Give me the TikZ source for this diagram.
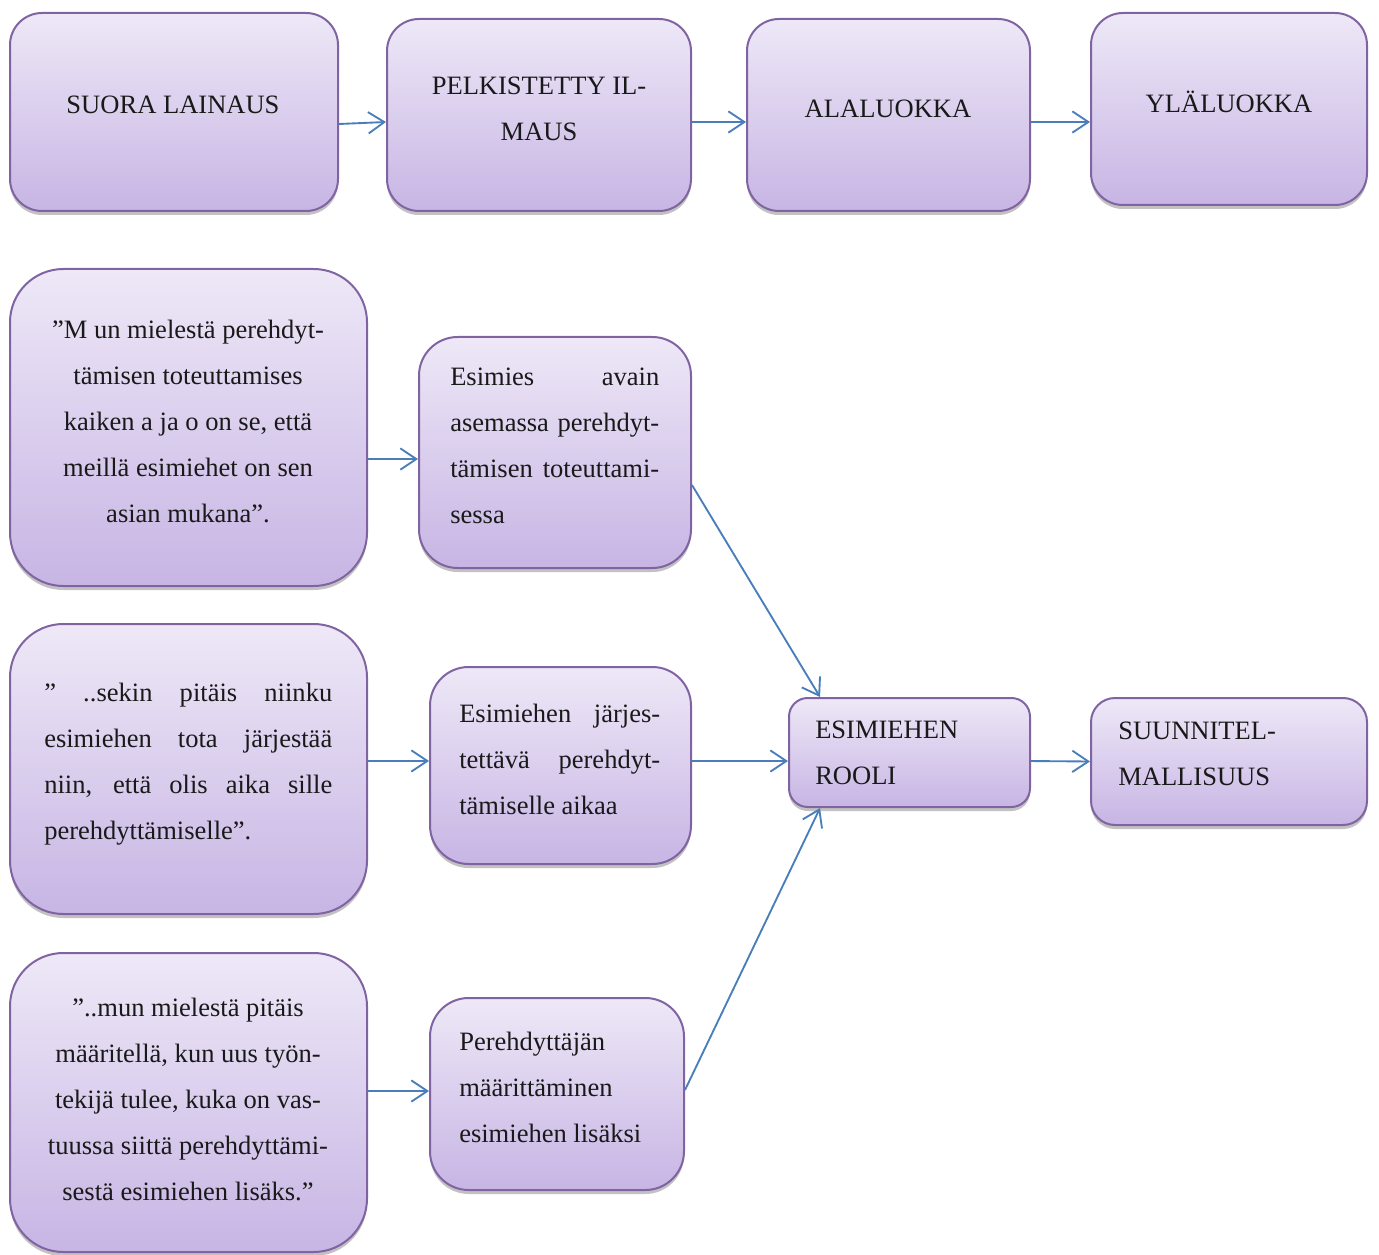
\documentclass[tikz,border=0pt]{standalone}
\usepackage{fontspec}
\setmainfont{Liberation Serif}
\usetikzlibrary{arrows.meta,shadows,fit}
\definecolor{boxborder}{RGB}{128,100,162}
\definecolor{boxtop}{RGB}{238,232,247}
\definecolor{boxbot}{RGB}{199,181,228}
\definecolor{arrowblue}{RGB}{74,126,187}
\tikzset{
  box/.style={draw=boxborder, line width=1.5pt, top color=boxtop, bottom color=boxbot,
    inner sep=0pt, drop shadow={shadow xshift=0pt, shadow yshift=-3pt, opacity=0.4, fill=black!60}},
  txt/.style={font=\fontsize{19.9pt}{34.5pt}\selectfont, inner sep=0pt, text=black!90},
  arr/.style={draw=arrowblue, line width=1.4pt, -{Straight Barb[length=12pt,width=16pt]}}
}
\begin{document}
\begin{tikzpicture}[x=0.75pt,y=-0.75pt]
\useasboundingbox (0,0) rectangle (1379,1255);
% top row
\node[box, rounded corners=24pt, fit={(10,13) (338,211)}] (A) {};
\node[box, rounded corners=24pt, fit={(387,19) (691,211)}] (B) {};
\node[box, rounded corners=24pt, fit={(747,19) (1030,211)}] (C) {};
\node[box, rounded corners=24pt, fit={(1091,13) (1367,205)}] (D) {};
\node[txt] (tA) at (173,105) {SUORA LAINAUS};
\node[txt, align=center] (tB) at (539,109) {PELKISTETTY IL-\\MAUS};
\node[txt] (tC) at (888,109) {ALALUOKKA};
\node[txt] (tD) at (1229,102) {YLÄLUOKKA};
\draw[arr] ([yshift=-9pt]A.east) -- ([yshift=-5.25pt]B.west);
\draw[arr] ([yshift=-5.25pt]B.east) -- ([yshift=-5.25pt]C.west);
\draw[arr] ([yshift=-5.25pt]C.east) -- ([yshift=-9.75pt]D.west);
% quote boxes
\node[box, rounded corners=40pt, fit={(10,269) (367,586)}] (Q1) {};
\node[box, rounded corners=29pt, fit={(419,337) (691,568)}] (E1) {};
\node[box, rounded corners=40pt, fit={(10,624) (367,914)}] (Q2) {};
\node[box, rounded corners=29pt, fit={(430,667) (691,864)}] (E2) {};
\node[box, rounded corners=40pt, fit={(10,953) (367,1252)}] (Q3) {};
\node[box, rounded corners=29pt, fit={(430,998) (684,1190)}] (E3) {};
\node[box, rounded corners=14pt, fit={(789,698) (1030,807)}] (R) {};
\node[box, rounded corners=18pt, fit={(1091,698) (1367,825)}] (S) {};
% texts
\node[txt, align=center] (tQ1) at (188,421) {”M un mielestä perehdyt-\\tämisen toteuttamises\\kaiken a ja o on se, että\\meillä esimiehet on sen\\asian mukana”.};
\node[txt, align=left, anchor=west] (tE1) at (450,445.5) {\makebox[156.75pt][s]{Esimies avain}\\\makebox[156.75pt][s]{asemassa perehdyt-}\\\makebox[156.75pt][s]{tämisen toteuttami-}\\sessa};
\node[txt, align=left, anchor=west] (tQ2) at (44,764.5) {\makebox[216pt][s]{” ..sekin pitäis niinku}\\\makebox[216pt][s]{esimiehen tota järjestää}\\\makebox[216pt][s]{niin, että olis aika sille}\\perehdyttämiselle”.};
\node[txt, align=left, anchor=west] (tE2) at (459,759.5) {\makebox[150.75pt][s]{Esimiehen järjes-}\\\makebox[150.75pt][s]{tettävä perehdyt-}\\tämiselle aikaa};
\node[txt, align=center] (tQ3) at (188,1099) {”..mun mielestä pitäis\\määritellä, kun uus työn-\\tekijä tulee, kuka on vas-\\tuussa siittä perehdyttämi-\\sestä esimiehen lisäks.”};
\node[txt, align=left, anchor=west] (tE3) at (459,1087) {Perehdyttäjän\\määrittäminen\\esimiehen lisäksi};
\node[txt, align=left, anchor=west] (tR) at (815,753) {ESIMIEHEN\\ROOLI};
\node[txt, align=left, anchor=west] (tS) at (1118,754) {SUUNNITEL-\\MALLISUUS};
% connectors
\draw[arr] ([yshift=-23.6pt]Q1.east) -- ([yshift=-4.9pt]E1.west);
\draw[arr] ([yshift=6pt]Q2.east) -- ([yshift=3.4pt]E2.west);
\draw[arr] ([yshift=8.6pt]Q3.east) -- ([yshift=2.25pt]E3.west);
\draw[arr] ([yshift=-24.4pt]E1.east) -- ([xshift=-67.1pt]R.north);
\draw[arr] ([yshift=3.4pt]E2.east) -- ([yshift=-6.4pt]R.west);
\draw[arr] ([yshift=3pt]E3.east) -- ([xshift=-67.1pt]R.south);
\draw[arr] ([yshift=-6.4pt]R.east) -- (S.west);
\end{tikzpicture}
\end{document}
